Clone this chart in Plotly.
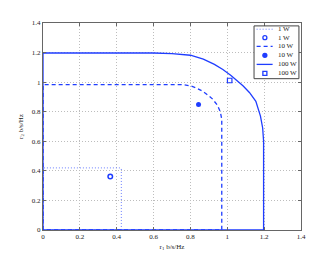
import plotly.graph_objects as go

# Data
r1_1w = [0, 0, 0.42, 0.425, 0.425, 0]
r2_1w = [0, 0.42, 0.42, 0.415, 0, 0]
pt_1w_x, pt_1w_y = [0.365], [0.362]

r1_10w = [0, 0, 0.76, 0.80, 0.83, 0.864, 0.89, 0.919, 0.946, 0.962, 0.97, 0.97, 0]
r2_10w = [0, 0.983, 0.983, 0.975, 0.962, 0.94, 0.917, 0.887, 0.845, 0.80, 0.75, 0, 0]
pt_10w_x, pt_10w_y = [0.844], [0.848]

r1_100w = [0, 0, 0.60, 0.70, 0.80, 0.87, 0.93, 0.976, 1.02, 1.045, 1.085, 1.12, 1.155, 1.18, 1.192, 1.197, 1.197, 0]
r2_100w = [0, 1.197, 1.197, 1.193, 1.182, 1.155, 1.12, 1.085, 1.045, 1.02, 0.976, 0.93, 0.87, 0.77, 0.69, 0.60, 0, 0]
pt_100w_x, pt_100w_y = [1.013], [1.011]

x_ticks = [0, 0.2, 0.4, 0.6, 0.8, 1, 1.2, 1.4]
y_ticks = [0, 0.2, 0.4, 0.6, 0.8, 1, 1.2, 1.4]
legend_labels = ['1 W', '1 W', '10 W', '10 W', '100 W', '100 W']

blue = '#1f3dff'
light_blue = '#6a7eff'
font = dict(family='Liberation Serif, Times New Roman, serif', size=7, color='#222')

fig = go.Figure()
fig.add_trace(go.Scatter(x=r1_1w, y=r2_1w, mode='lines', name='1 W',
                         line=dict(color=light_blue, width=1, dash='1px,2px')))
fig.add_trace(go.Scatter(x=pt_1w_x, y=pt_1w_y, mode='markers', name='1 W',
                         marker=dict(symbol='circle-open', size=4.5, color=blue, line=dict(width=1.5))))
fig.add_trace(go.Scatter(x=r1_10w, y=r2_10w, mode='lines', name='10 W',
                         line=dict(color=blue, width=1.3, dash='4px,3px')))
fig.add_trace(go.Scatter(x=pt_10w_x, y=pt_10w_y, mode='markers', name='10 W',
                         marker=dict(symbol='circle', size=5, color=blue)))
fig.add_trace(go.Scatter(x=r1_100w, y=r2_100w, mode='lines', name='100 W',
                         line=dict(color=blue, width=1.3)))
fig.add_trace(go.Scatter(x=pt_100w_x, y=pt_100w_y, mode='markers', name='100 W',
                         marker=dict(symbol='square-open', size=4.5, color=blue, line=dict(width=1.2))))

axis_common = dict(showline=True, mirror='ticks', linecolor='#666', linewidth=1,
                   ticks='inside', ticklen=3, tickcolor='#666',
                   showgrid=True, gridcolor='#bdbdbd', griddash='1px,2px', gridwidth=1,
                   zeroline=False, tickfont=font)

fig.update_xaxes(range=[0, 1.4], tickvals=x_ticks, ticktext=[f'{v:g}' for v in x_ticks],
                 title=dict(text='r<sub>1</sub> b/s/Hz', font=font, standoff=3), **axis_common)
fig.update_yaxes(range=[0, 1.4], tickvals=y_ticks, ticktext=[f'{v:g}' for v in y_ticks],
                 title=dict(text='r<sub>2</sub> b/s/Hz', font=font, standoff=7), **axis_common)

# Manual compact legend (paper coordinates)
shapes = [dict(type='rect', xref='paper', yref='paper', x0=0.818, x1=0.992, y0=0.731, y1=0.986,
               line=dict(color='#444', width=1), fillcolor='white', layer='above')]
rows = [0.970, 0.929, 0.887, 0.844, 0.800, 0.757]
lx0, lx1, mx, tx = 0.828, 0.890, 0.860, 0.905
# line samples
shapes.append(dict(type='line', xref='paper', yref='paper', x0=lx0, x1=lx1, y0=rows[0], y1=rows[0],
                   line=dict(color=light_blue, width=1, dash='1px,2px'), layer='above'))
shapes.append(dict(type='line', xref='paper', yref='paper', x0=lx0, x1=lx1, y0=rows[2], y1=rows[2],
                   line=dict(color=blue, width=1.3, dash='4px,3px'), layer='above'))
shapes.append(dict(type='line', xref='paper', yref='paper', x0=lx0, x1=lx1, y0=rows[4], y1=rows[4],
                   line=dict(color=blue, width=1.3), layer='above'))
# marker samples
def marker_shape(kind, yc, filled):
    return dict(type=kind, xref='paper', yref='paper', xsizemode='pixel', ysizemode='pixel',
                xanchor=mx, yanchor=yc, x0=-2, x1=2, y0=-2, y1=2,
                line=dict(color=blue, width=1.3), fillcolor=blue if filled else 'rgba(0,0,0,0)',
                layer='above')
shapes.append(marker_shape('circle', rows[1], False))
shapes.append(marker_shape('circle', rows[3], True))
shapes.append(marker_shape('rect', rows[5], False))

annotations = [dict(xref='paper', yref='paper', x=tx, y=yv, text=lab, showarrow=False,
                    xanchor='left', yanchor='middle', font=font)
               for yv, lab in zip(rows, legend_labels)]

fig.update_layout(
    width=324, height=252,
    margin=dict(l=35, r=31, t=11, b=29),
    paper_bgcolor='white', plot_bgcolor='white',
    font=font,
    showlegend=False,
    shapes=shapes,
    annotations=annotations,
)

fig.write_html('out.html')
